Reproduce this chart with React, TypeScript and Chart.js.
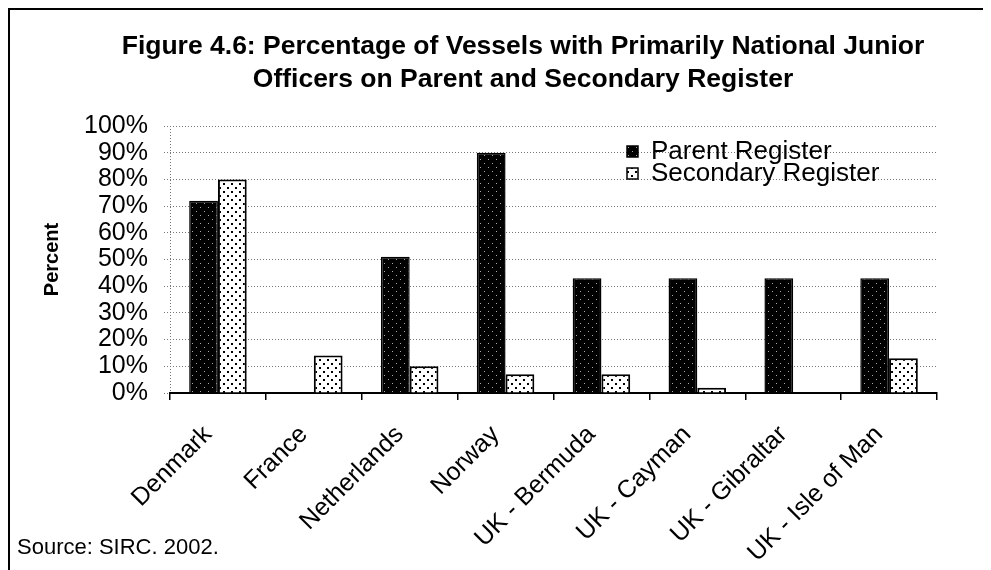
import React, { useEffect, useRef } from "react";
import { Chart, registerables } from "chart.js";

Chart.register(...registerables);

const titleLines = [
  "Figure 4.6: Percentage of Vessels with Primarily National Junior",
  "Officers on Parent and Secondary Register",
];
const categories = [
  "Denmark",
  "France",
  "Netherlands",
  "Norway",
  "UK - Bermuda",
  "UK - Cayman",
  "UK - Gibraltar",
  "UK - Isle of Man",
];
const parentRegister = [72, 0, 51, 90, 43, 43, 43, 43];
const secondaryRegister = [80, 14, 10, 7, 7, 2, 0, 13];
const seriesNames = ["Parent Register", "Secondary Register"];
const yAxisTitle = "Percent";
const sourceNote = "Source: SIRC. 2002.";

const FONT = "'Liberation Sans', Arial, sans-serif";

function makePattern(kind: "parent" | "secondary"): CanvasPattern | string {
  const c = document.createElement("canvas");
  c.width = 8;
  c.height = 8;
  const g = c.getContext("2d");
  if (!g) return kind === "parent" ? "#000" : "#fff";
  if (kind === "parent") {
    g.fillStyle = "#000";
    g.fillRect(0, 0, 8, 8);
    g.fillStyle = "#aaa";
    g.fillRect(2, 1, 1, 1);
    g.fillRect(6, 5, 1, 1);
  } else {
    g.fillStyle = "#fff";
    g.fillRect(0, 0, 8, 8);
    g.fillStyle = "#000";
    g.fillRect(1, 1, 2, 2);
    g.fillRect(5, 5, 2, 2);
  }
  return g.createPattern(c, "repeat") || "#000";
}

export default function App() {
  const ref = useRef<HTMLCanvasElement>(null);

  useEffect(() => {
    const canvas = ref.current;
    if (!canvas) return;
    const pParent = makePattern("parent");
    const pSecondary = makePattern("secondary");

    const decor = {
      id: "decor",
      beforeDatasetsDraw(chart: any) {
        const { ctx, chartArea } = chart;
        ctx.save();
        ctx.strokeStyle = "#777";
        ctx.lineWidth = 1;
        ctx.setLineDash([1, 2]);
        ctx.beginPath();
        ctx.moveTo(chartArea.left + 0.5, chartArea.top);
        ctx.lineTo(chartArea.left + 0.5, chartArea.bottom);
        ctx.stroke();
        ctx.restore();
      },
      afterDraw(chart: any) {
        const { ctx } = chart;
        ctx.save();
        ctx.fillStyle = "#000";
        ctx.textAlign = "center";
        ctx.textBaseline = "middle";
        ctx.font = `bold 26.5px ${FONT}`;
        ctx.fillText(titleLines[0], 513, 37);
        ctx.fillText(titleLines[1], 513, 70);

        // legend
        const ds = chart.data.datasets;
        const legendY = [141, 163];
        ds.forEach((d: any, i: number) => {
          const y = legendY[i];
          ctx.fillStyle = d.backgroundColor;
          ctx.fillRect(617, y - 5, 11, 11);
          ctx.strokeStyle = "#000";
          ctx.lineWidth = 1.5;
          ctx.strokeRect(617, y - 5, 11, 11);
          ctx.fillStyle = "#000";
          ctx.textAlign = "left";
          ctx.font = `26px ${FONT}`;
          ctx.fillText(d.label, 641, y + 1);
        });

        ctx.textAlign = "left";
        ctx.font = `22px ${FONT}`;
        ctx.fillText(sourceNote, 7, 538);
        ctx.restore();
      },
    };

    const chart = new Chart(canvas, {
      type: "bar",
      data: {
        labels: categories,
        datasets: [
          {
            label: seriesNames[0],
            data: parentRegister,
            backgroundColor: pParent as any,
            borderColor: "#000",
            borderWidth: 1.5,
          },
          {
            label: seriesNames[1],
            data: secondaryRegister,
            backgroundColor: pSecondary as any,
            borderColor: "#000",
            borderWidth: 2,
          },
        ],
      },
      options: {
        responsive: false,
        animation: false,
        events: [],
        layout: { padding: { top: 116, right: 54, left: 0, bottom: 0 } },
        plugins: {
          legend: { display: false },
          title: { display: false },
          tooltip: { enabled: false },
        },
        datasets: {
          bar: { categoryPercentage: 0.6, barPercentage: 1.0 },
        },
        scales: {
          x: {
            afterFit: (s: any) => {
              s.height = 177;
            },
            grid: {
              display: true,
              drawOnChartArea: false,
              drawTicks: true,
              tickLength: 7,
              color: "#000",
              lineWidth: 1.5,
            },
            border: { display: true, color: "#000", width: 2 },
            ticks: {
              minRotation: 45,
              maxRotation: 45,
              autoSkip: false,
              color: "#000",
              padding: 20,
              labelOffset: -10,
              font: { family: FONT, size: 25 },
            },
          },
          y: {
            min: 0,
            max: 100,
            afterFit: (s: any) => {
              s.width = 160;
            },
            ticks: {
              stepSize: 10,
              autoSkip: false,
              color: "#000",
              padding: 16,
              font: { family: FONT, size: 25 },
              callback: (v: any) => `${v}%`,
            },
            grid: {
              color: "#777",
              lineWidth: 1,
              drawTicks: true,
              tickLength: 6,
              tickBorderDash: [1, 2],
            },
            border: { display: false, dash: [1, 2] },
            title: {
              display: true,
              text: yAxisTitle,
              color: "#000",
              padding: { top: 30, bottom: 0 },
              font: { family: FONT, size: 20, weight: "bold" },
            },
          },
        },
      },
      plugins: [decor],
    });
    return () => chart.destroy();
  }, []);

  return (
    <div
      style={{
        width: 983,
        height: 562,
        borderLeft: "2px solid #000",
        borderTop: "2px solid #000",
        boxSizing: "border-box",
        overflow: "hidden",
      }}
    >
      <canvas ref={ref} width={981} height={560} style={{ display: "block" }} />
    </div>
  );
}
